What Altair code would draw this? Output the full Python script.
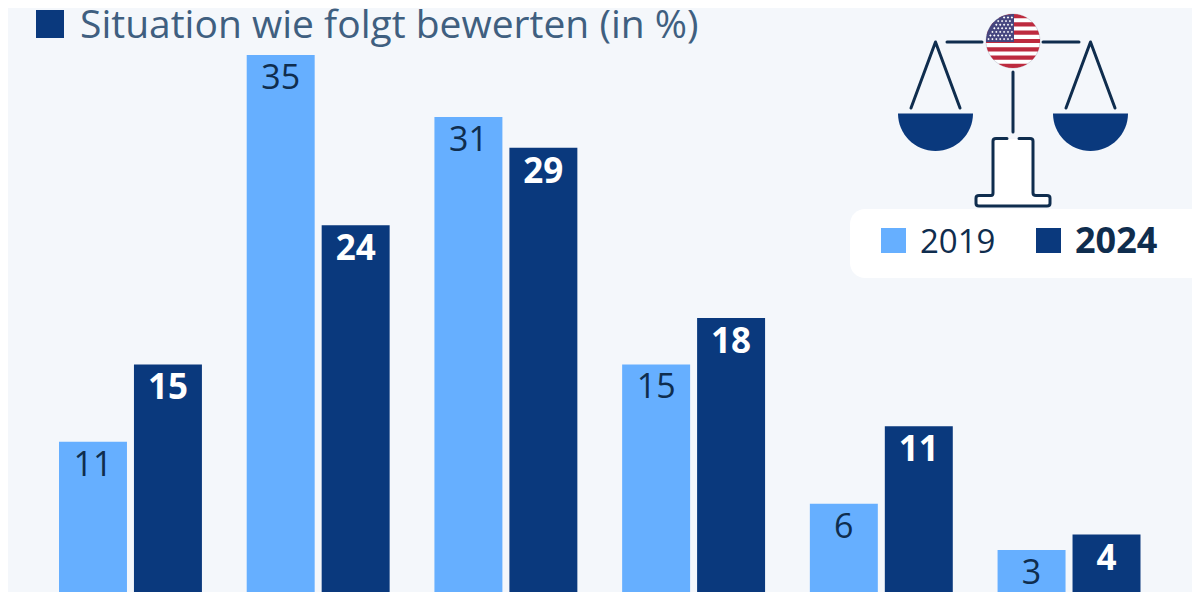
import math
import altair as alt
import pandas as pd

groups = ["A", "B", "C", "D", "E", "F"]
bars_2019 = [10, 35, 31, 15, 6, 3]
bars_2024 = [15, 24, 29, 18, 11, 4]
labels_2019 = [11, 35, 31, 15, 6, 3]
labels_2024 = [15, 24, 29, 18, 11, 4]
years = ["2019", "2024"]
subtitle = "Situation wie folgt bewerten (in %)"

LIGHT, DARK, INK, BG = "#66afff", "#0a397d", "#0f2d4e", "#f4f7fb"
OX, OY = 8, 8
FONT = "Open Sans"

rows = []
for g, a, b, la, lb in zip(groups, bars_2019, bars_2024, labels_2019, labels_2024):
    rows.append(dict(g=g, year="2019", v=a, label=la))
    rows.append(dict(g=g, year="2024", v=b, label=lb))
df = pd.DataFrame(rows)

xs = alt.Scale(domain=groups, range=[59 - OX, 1140.5 - OX], paddingInner=0.2386, paddingOuter=0)
xo = alt.Scale(domain=years, paddingInner=0.0933, paddingOuter=0)
ys = alt.Scale(domain=[0, 35], range=[596.5 - OY, 55 - OY], nice=False, zero=True)
X = alt.X("g:N", scale=xs, axis=None)
XO = alt.XOffset("year:N", scale=xo)
Y = alt.Y("v:Q", scale=ys, axis=None)

bars = alt.Chart(df).mark_bar(cornerRadius=0).encode(
    x=X, xOffset=XO, y=Y,
    color=alt.Color("year:N", scale=alt.Scale(domain=years, range=[LIGHT, DARK]), legend=None),
)
def value_text(year, weight, col, size):
    return alt.Chart(df[df.year == year]).mark_text(
        font=FONT, fontSize=size, fontWeight=weight, color=col, baseline="middle", dy=24
    ).encode(x=X, xOffset=XO, y=Y, text="label:Q")

def P(x, y):
    return f"{x - OX:.2f} {y - OY:.2f}"

def glyph(path, **kw):
    return alt.Chart(df.head(1)).mark_point(shape=path, size=4, opacity=1, **kw).encode(
        x=alt.value(0), y=alt.value(0))

def line_glyph(path, color=INK, w=3):
    return glyph(path, filled=False, stroke=color, strokeWidth=w, strokeCap="round", strokeJoin="round")

def fill_glyph(path, color):
    return glyph(path, filled=True, fill=color, strokeWidth=0)

def box(x1, y1, x2, y2, color, r=0):
    return alt.Chart(df.head(1)).mark_rect(color=color, cornerRadius=r).encode(
        x=alt.value(x1 - OX), x2=alt.value(x2 - OX), y=alt.value(y1 - OY), y2=alt.value(y2 - OY))

def label(x, y, txt, size, col, weight="normal"):
    return alt.Chart(df.head(1)).mark_text(
        text=txt, font=FONT, fontSize=size, fontWeight=weight, color=col, align="left", baseline="alphabetic"
    ).encode(x=alt.value(x - OX), y=alt.value(y - OY))

def pan(cx):
    return fill_glyph(f"M{P(cx - 37.5, 113.5)} L{P(cx + 37.5, 113.5)} A37.5 37.5 0 0 1 {P(cx - 37.5, 113.5)} Z", DARK)

# flag
FX, FY, R = 1013, 41, 27
def half(y):
    return math.sqrt(max(R * R - (y - FY) ** 2, 0))

def stripe(y1, y2):
    pts = []
    n = 12
    for i in range(n + 1):
        y = y1 + (y2 - y1) * i / n
        pts.append((FX + half(y), y))
    for i in range(n + 1):
        y = y2 - (y2 - y1) * i / n
        pts.append((FX - half(y), y))
    return "M" + " L".join(P(a, b) for a, b in pts) + " Z"

canton_bottom = FY + 1
def canton():
    pts = [(FX + 1, FY - R), (FX + 1, canton_bottom)]
    for i in range(25):
        y = canton_bottom - (canton_bottom - (FY - R)) * i / 24
        pts.append((FX - half(y), y))
    return "M" + " L".join(P(a, b) for a, b in pts) + " Z"

flag = [glyph(f"M{P(FX - R, FY)} A{R} {R} 0 1 1 {P(FX + R, FY)} A{R} {R} 0 1 1 {P(FX - R, FY)} Z",
              filled=True, fill="#ffffff", stroke="#d5d8e0", strokeWidth=1)]
h = 2 * R / 13
for k in range(0, 13, 2):
    flag.append(fill_glyph(stripe(FY - R + k * h, FY - R + (k + 1) * h), "#bd2b3f"))
flag.append(fill_glyph(canton(), "#46467f"))
stars = []
for row in range(7):
    ya = FY - R + 3.5 + row * 3.6
    for col in range(7):
        xa = FX - 24.5 + col * 3.9 + (1.9 if row % 2 else 0)
        if xa < FX - 0.5 and half(ya) > FX - xa + 1.5:
            stars.append((xa, ya))
flag.append(fill_glyph(" ".join(
    f"M{P(a - 1.2, b)} L{P(a, b - 1.2)} L{P(a + 1.2, b)} L{P(a, b + 1.2)} Z" for a, b in stars), "#ffffff"))

base_fill = (f"M{P(993, 139)} L{P(1033, 139)} L{P(1033, 196)} L{P(1050, 196)} "
             f"L{P(1050, 206)} L{P(976, 206)} L{P(976, 196)} L{P(993, 196)} Z")
base_line = (f"M{P(1007, 138.5)} L{P(996, 138.5)} Q{P(993, 138.5)} {P(993, 141)} L{P(993, 193)} "
             f"Q{P(993, 195.5)} {P(991, 195.5)} L{P(979, 195.5)} Q{P(976, 195.5)} {P(976, 198)} L{P(976, 203.5)} "
             f"Q{P(976, 206)} {P(979, 206)} L{P(1047, 206)} Q{P(1050, 206)} {P(1050, 203.5)} L{P(1050, 198)} "
             f"Q{P(1050, 195.5)} {P(1047, 195.5)} L{P(1036, 195.5)} Q{P(1033, 195.5)} {P(1033, 193)} L{P(1033, 141)} "
             f"Q{P(1033, 138.5)} {P(1030, 138.5)} L{P(1019, 138.5)}")

icon = [
    line_glyph(f"M{P(947, 42)} L{P(982, 42)} M{P(1043, 42)} L{P(1079, 42)}"),
    line_glyph(f"M{P(911, 108)} L{P(935.5, 42)} L{P(960, 108)}"),
    line_glyph(f"M{P(1066, 108)} L{P(1090.5, 42)} L{P(1115, 108)}"),
    line_glyph(f"M{P(1013, 72)} L{P(1013, 132)}"),
    pan(935.5), pan(1090.5),
    fill_glyph(base_fill, "#ffffff"),
    line_glyph(base_line),
] + flag

chart = alt.layer(
    bars,
    value_text("2019", "normal", INK, 34),
    value_text("2024", "bold", "#ffffff", 35),
    box(36, 10, 64, 38, DARK),
    label(80, 38, subtitle, 39, "#3f5f80"),
    *icon,
    box(850, 209, 1215, 278, "#ffffff", 15),
    box(881, 228, 906, 253, LIGHT),
    label(920, 253, years[0], 33, INK),
    box(1036, 228, 1061, 253, DARK),
    label(1075, 253, years[1], 36, INK, "bold"),
).properties(
    width=1184, height=584, background=BG, padding=0,
    autosize=alt.AutoSizeParams(type="none"),
).configure_view(stroke=None)

chart.save("out.html", embed_options={"renderer": "svg", "actions": False})
